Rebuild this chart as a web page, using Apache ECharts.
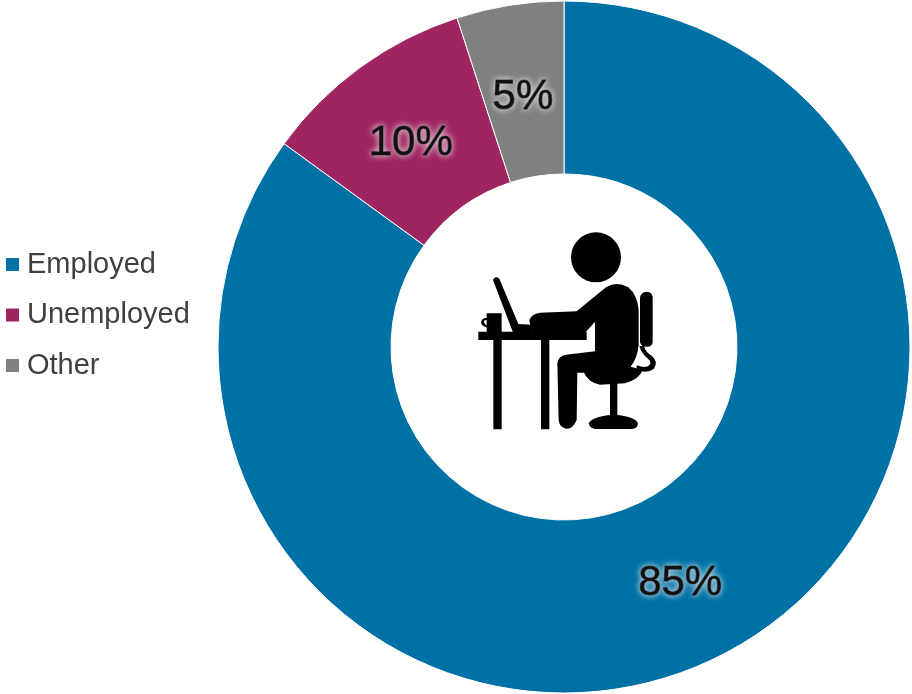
<!DOCTYPE html>
<html>
<head>
<meta charset="utf-8">
<style>html,body{margin:0;padding:0;background:#fff}#chart{width:912px;height:694px}</style>
<script src="https://cdn.jsdelivr.net/npm/echarts@6/dist/echarts.min.js"></script>
</head>
<body>
<div id="chart"></div>
<script>
const categories = ['Employed', 'Unemployed', 'Other'];
const shares = [85, 10, 5];
const colors = ['#0071a5', '#9e2561', '#808080'];
const labelNudges = [[-3, 3], [1, 9], [0, 10]];

// Person-at-a-desk pictogram, drawn on a 3x grid and scaled down.
const personBody = 'M208 300 Q214 282 240 278 L350 274 L438 202 Q470 182 505 202 Q532 225 536 270 L536 375 Q532 415 512 440 L548 450 Q538 478 495 490 L420 494 Q385 487 372 458 L352 458 L350 600 Q338 628 318 626 Q298 622 296 600 L292 430 Q294 408 318 404 L405 394 L405 305 L374 340 L215 340 Z';
const personHead = 'M333 112 A75 75 0 1 1 483 112 A75 75 0 1 1 333 112 Z';
const laptopScreen = 'M99 180 Q106 164 118 176 L175 312 L215 314 L215 340 L160 340 Z';
const desk = 'M55 335 L380 335 L380 360 L268 360 L268 628 L243 628 L243 360 L125 360 L125 628 L100 628 L100 360 L55 360 Z';
const cup = 'M80 280 L125 280 L125 338 L80 338 L80 322 Q60 316 64 304 Q68 292 80 294 Z M80 300 Q70 300 72 306 Q74 314 80 316 Z';
const backrest = 'M540 235 Q542 215 560 215 Q578 215 578 235 L578 365 Q578 380 560 380 Q542 380 540 365 Z';
const cable = 'M552 378 Q556 396 576 408 Q596 426 582 446 Q562 462 530 450 L530 436 Q558 446 568 436 Q576 426 564 416 Q544 400 538 378 Z';
const chairPost = 'M450 488 L472 488 L472 585 Q525 590 534 610 Q532 627 515 627 L405 627 Q388 624 386 610 Q398 590 450 585 Z';

const iconParts = [personBody, personHead, laptopScreen, desk, cup, backrest, cable, chairPost];

// The graphic component has no free-form path type, so each part is registered as a shape.
iconParts.forEach((pathData, i) => {
  echarts.graphic.registerShape('iconPart' + i, echarts.graphic.extendPath(pathData, {}));
});

const chart = echarts.init(document.getElementById('chart'));
chart.setOption({
  animation: false,
  backgroundColor: '#ffffff',
  color: colors,
  legend: {
    orient: 'vertical',
    left: 4,
    top: 248.5,
    padding: 0,
    icon: 'rect',
    itemWidth: 15,
    itemHeight: 15,
    itemGap: 18.5,
    selectedMode: false,
    textStyle: { fontFamily: 'Liberation Sans', fontSize: 29, color: '#404040', lineHeight: 32, padding: [0, 0, 0, 2] }
  },
  series: [{
    type: 'pie',
    center: [564, 347],
    radius: [173, 346],
    startAngle: 90,
    clockwise: true,
    silent: true,
    itemStyle: { borderColor: '#ffffff', borderWidth: 1 },
    labelLine: { show: false },
    label: {
      show: true,
      position: 'inside',
      formatter: '{d}%',
      fontFamily: 'Liberation Sans',
      fontSize: 42,
      color: '#111111',
      textBorderColor: '#111111',
      textBorderWidth: 1,
      textShadowColor: 'rgba(255,255,255,0.85)',
      textShadowBlur: 6
    },
    data: categories.map((name, i) => ({
      name,
      value: shares[i],
      label: { offset: labelNudges[i] }
    }))
  }],
  graphic: [{
    type: 'group',
    x: 460,
    y: 220,
    scaleX: 1 / 3,
    scaleY: 1 / 3,
    silent: true,
    children: iconParts.map((pathData, i) => ({
      type: 'iconPart' + i,
      style: { fill: '#000000' }
    }))
  }]
});
</script>
</body>
</html>
